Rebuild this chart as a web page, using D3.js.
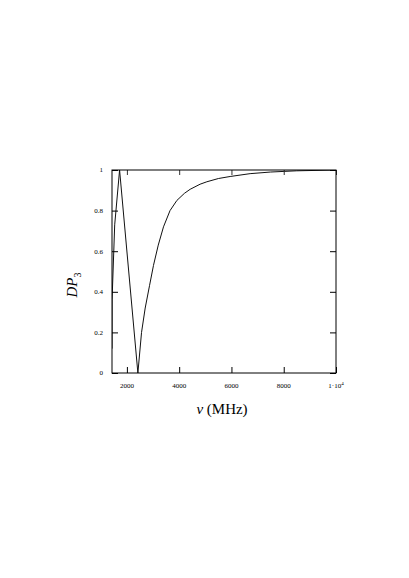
<!DOCTYPE html>
<html>
<head>
<meta charset="utf-8">
<script src="https://cdn.jsdelivr.net/npm/d3@7"></script>
<style>
body { margin: 0; background: #fff; }
</style>
</head>
<body>
<div id="chart"></div>
<script>
// frequency (MHz) and DP3
var freq = [1430, 1433, 1533, 1720, 2420, 2560, 2700, 2865, 3017, 3200, 3400, 3650, 3912, 4200, 4420, 4800, 5059, 5500, 5950, 6715, 7500, 8500, 10000];
var dp3 = [0.12, 0.36, 0.73, 1.0, 0.0, 0.2, 0.32, 0.43, 0.53, 0.63, 0.72, 0.8, 0.85, 0.885, 0.905, 0.93, 0.942, 0.958, 0.968, 0.982, 0.99, 0.996, 1.0];
var xTicks = [2000, 4000, 6000, 8000, 10000];
var xTickLabels = ["2000", "4000", "6000", "8000", "1\u00b710"];
var yTicks = [0, 0.2, 0.4, 0.6, 0.8, 1];

var W = 409, H = 578;
var margin = {top: 170, right: 73, bottom: 205, left: 112};
var width = W - margin.left - margin.right;
var height = H - margin.top - margin.bottom;

var svg = d3.select("#chart").append("svg").attr("width", W).attr("height", H);
var g = svg.append("g").attr("transform", "translate(" + margin.left + "," + margin.top + ")");

var x = d3.scaleLinear().domain([1430, 10000]).range([0, width]);
var y = d3.scaleLinear().domain([0, 1]).range([height, 0]);

var data = freq.map(function(f, i) { return [f, dp3[i]]; });

g.append("clipPath").attr("id", "clip").append("rect").attr("width", width).attr("height", height);

var line = d3.line()
.x(function(d) { return x(d[0]); })
.y(function(d) { return y(d[1]); });

g.append("path")
.datum(data)
.attr("clip-path", "url(#clip)")
.attr("fill", "none")
.attr("stroke", "#111")
.attr("stroke-width", 1)
.attr("d", line);

// ticks inside on all four sides
var tl = 6;
g.append("g")
.attr("transform", "translate(0," + height + ")")
.call(d3.axisBottom(x).tickValues(xTicks).tickSizeInner(-tl).tickSizeOuter(0).tickFormat(function(d, i) { return ""; }))
.call(function(a) { a.select(".domain").remove(); a.selectAll("line").attr("stroke", "#000"); });
g.append("g")
.call(d3.axisTop(x).tickValues(xTicks).tickSizeInner(-5).tickSizeOuter(0).tickFormat(""))
.call(function(a) { a.select(".domain").remove(); a.selectAll("line").attr("stroke", "#333"); });
g.append("g")
.call(d3.axisLeft(y).tickValues(yTicks).tickSizeInner(-tl).tickSizeOuter(0).tickFormat(""))
.call(function(a) { a.select(".domain").remove(); a.selectAll("line").attr("stroke", "#000"); });
g.append("g")
.attr("transform", "translate(" + width + ",0)")
.call(d3.axisRight(y).tickValues(yTicks).tickSizeInner(-tl).tickSizeOuter(0).tickFormat(""))
.call(function(a) { a.select(".domain").remove(); a.selectAll("line").attr("stroke", "#000"); });

// frame
g.append("rect")
.attr("width", width)
.attr("height", height)
.attr("fill", "none")
.attr("stroke", "#000")
.attr("stroke-width", 1);

// tick labels
g.selectAll(".xl")
.data(xTicks)
.enter().append("text")
.attr("class", "xl")
.attr("x", function(d) { return x(d); })
.attr("y", height + 15)
.attr("text-anchor", "middle")
.style("font", "7px 'Liberation Serif', serif")
.text(function(d, i) { return xTickLabels[i]; })
.filter(function(d) { return d === 10000; })
.append("tspan")
.attr("dy", -3)
.style("font-size", "5px")
.text("4");

g.selectAll(".yl")
.data(yTicks)
.enter().append("text")
.attr("class", "yl")
.attr("x", -9)
.attr("y", function(d) { return y(d); })
.attr("dy", "0.35em")
.attr("text-anchor", "end")
.style("font", "7px 'Liberation Serif', serif")
.text(function(d) { return d; });

// axis titles
svg.append("text")
.attr("x", 222)
.attr("y", 414)
.attr("text-anchor", "middle")
.style("font", "15px 'Liberation Serif', serif")
.html("<tspan font-style='italic'>\u03bd</tspan> (MHz)");

var yt = svg.append("text")
.attr("transform", "translate(77,285) rotate(-90)")
.attr("text-anchor", "middle")
.style("font", "15px 'Liberation Serif', serif");
yt.append("tspan").attr("font-style", "italic").text("DP");
yt.append("tspan").attr("dy", 4).style("font-size", "10px").text("3");
</script>
</body>
</html>
